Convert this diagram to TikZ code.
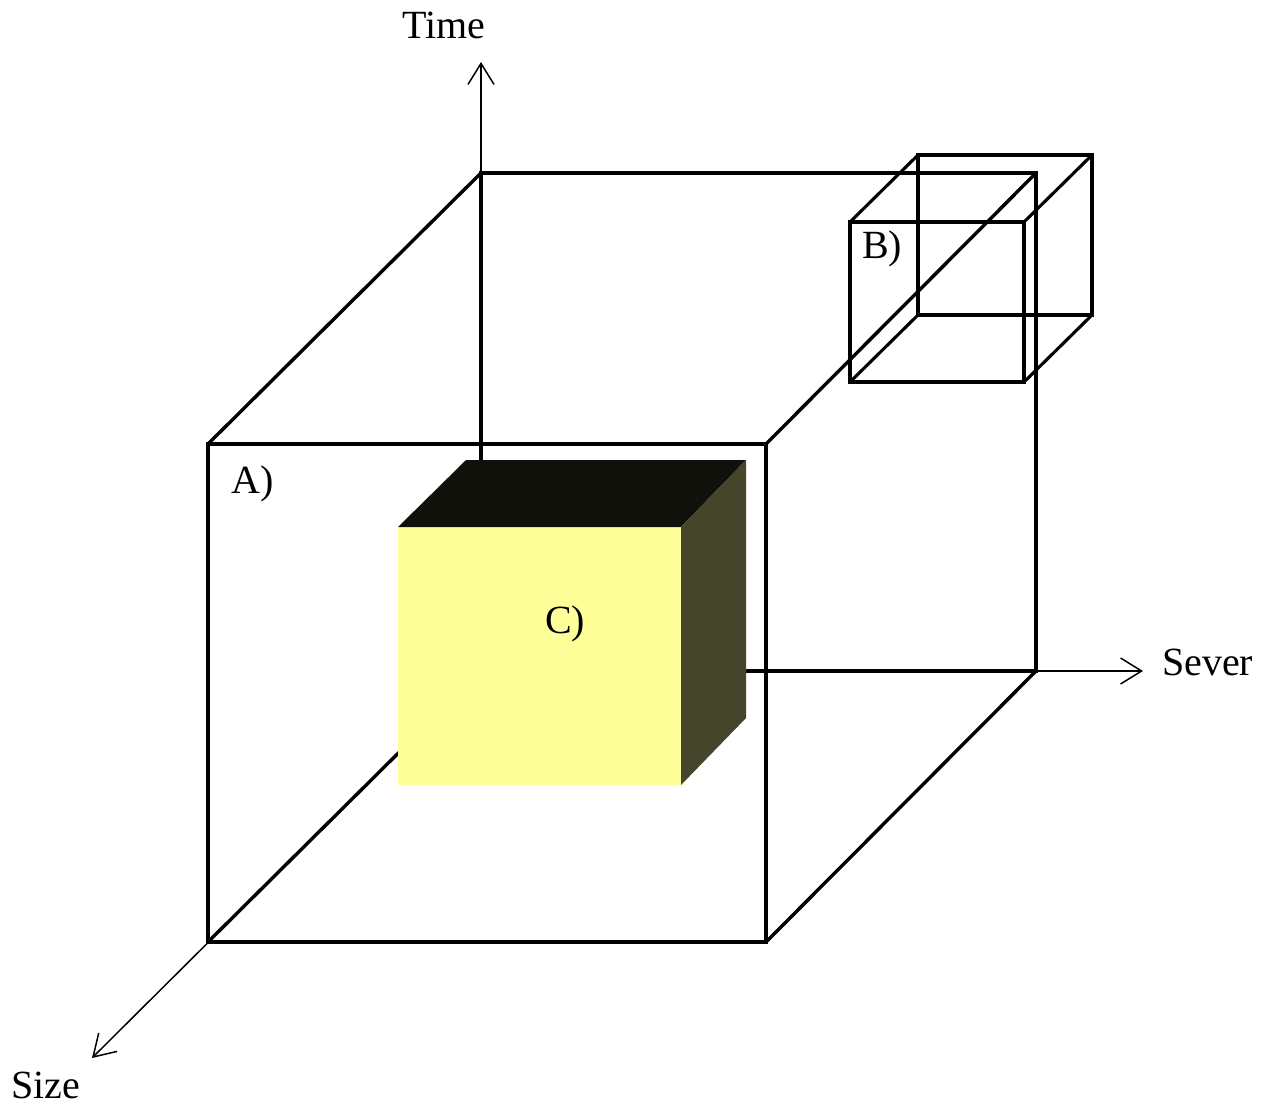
\documentclass[tikz,border=0pt]{standalone}
\usepackage{fontspec}
\setmainfont{Liberation Serif}
\usetikzlibrary{arrows.meta}
\definecolor{cfront}{HTML}{FFFF99}
\definecolor{ctop}{HTML}{10110B}
\definecolor{cside}{HTML}{45452B}

\begin{document}
\begin{tikzpicture}[x=1pt, y=-1pt,
  edge/.style={line width=3.4pt, line join=miter},
  thinedge/.style={line width=3.1pt, line join=miter},
  axis/.style={line width=1.5pt, -{Straight Barb[length=21pt, width=26pt, line width=1.5pt]}},
  lbl/.style={anchor=base west, inner sep=0pt, font=\fontsize{40}{46}\selectfont}
]
\useasboundingbox (0,0) rectangle (1274,1111);

% corners of cube A
\coordinate (A-ftl) at (208,444);  \coordinate (A-ftr) at (766,444);
\coordinate (A-fbl) at (208,942);  \coordinate (A-fbr) at (766,942);
\coordinate (A-btl) at (481,173);  \coordinate (A-btr) at (1036,173);
\coordinate (A-bbl) at (481,671);  \coordinate (A-bbr) at (1036,671);
% corners of cube B
\coordinate (B-ftl) at (850,222);  \coordinate (B-ftr) at (1024,222);
\coordinate (B-fbl) at (850,382);  \coordinate (B-fbr) at (1024,382);
\coordinate (B-btl) at (918,155);  \coordinate (B-btr) at (1092,155);
\coordinate (B-bbl) at (918,315);  \coordinate (B-bbr) at (1092,315);
% axis ends
\coordinate (origin) at (481,671);
\coordinate (time) at (481,62);
\coordinate (sever) at (1143,671);
\coordinate (size) at (92,1058);

% axes
\draw[axis] (origin) -- (time);
\draw[axis] (origin) -- (sever);
\draw[axis] (origin) -- (size);

% cube A
\draw[edge] (A-ftl) -- (A-ftr) -- (A-fbr) -- (A-fbl) -- cycle;
\draw[edge] (A-btl) -- (A-btr) -- (A-bbr) -- (A-bbl) -- cycle;
\draw[edge] (A-ftl) -- (A-btl);
\draw[edge] (A-ftr) -- (A-btr);
\draw[edge] (A-fbr) -- (A-bbr);
\draw[edge] (A-fbl) -- (A-bbl);

% cube B
\draw[thinedge] (B-ftl) -- (B-ftr) -- (B-fbr) -- (B-fbl) -- cycle;
\draw[thinedge] (B-btl) -- (B-btr) -- (B-bbr) -- (B-bbl) -- cycle;
\draw[thinedge] (B-ftl) -- (B-btl);
\draw[thinedge] (B-ftr) -- (B-btr);
\draw[thinedge] (B-fbr) -- (B-bbr);
\draw[thinedge] (B-fbl) -- (B-bbl);

% solid cube C
\fill[cfront] (398,527) rectangle (681,785);
\fill[ctop] (398,527) -- (681,527) -- (746,460) -- (466,460) -- cycle;
\fill[cside] (681,527) -- (746,460) -- (746,718) -- (681,785) -- cycle;

% labels
\node[lbl] (time-lbl) at (402,38) {Time};
\node[lbl] (sever-lbl) at (1162,675) {Sever};
\node[lbl] (size-lbl) at (11,1098) {Size};
\node[lbl] (a-lbl) at (231,493) {A)};
\node[lbl] (b-lbl) at (862,258) {B)};
\node[lbl] (c-lbl) at (545,633) {C)};
\end{tikzpicture}
\end{document}
